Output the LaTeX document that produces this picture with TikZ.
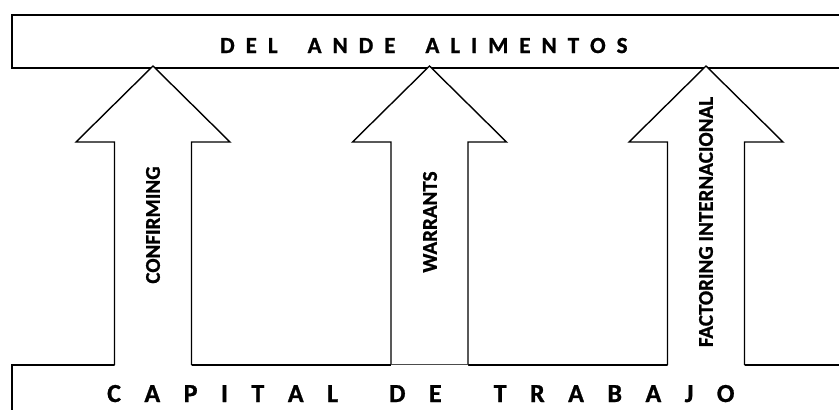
\documentclass[tikz,border=0pt]{standalone}
\usepackage{fontspec}
\setmainfont{Carlito}[BoldFont={Carlito Bold}]
\makeatletter
\newcommand{\trk}[2]{\def\trk@sep{\kern#1}\@tfor\trk@c:=#2\do{\trk@c\trk@sep}\unkern}
\makeatother
\begin{document}
\begin{tikzpicture}[x=1pt,y=-1pt,
  box/.style={draw=black, line width=1.6pt, fill=white, inner sep=0pt},
  arrowline/.style={draw=black, line width=1.4pt, line join=miter},
  vlabel/.style={rotate=90, font=\bfseries\fontsize{21}{21}\selectfont\addfontfeature{FakeBold=1}, inner sep=0pt},
  toplabel/.style={font=\bfseries\fontsize{23}{23}\selectfont\addfontfeature{FakeBold=1}, inner sep=0pt, anchor=base west},
  botlabel/.style={font=\bfseries\fontsize{26}{26}\selectfont\addfontfeature{FakeBold=1}, inner sep=0pt, anchor=base west}]
\useasboundingbox (0,0) rectangle (839,410);
\begin{scope}
\clip (0,0) rectangle (839,410);
\node[box, minimum width=834pt, minimum height=53pt, anchor=north west] (topbox) at (11,14) {};
\node[box, minimum width=834pt, minimum height=60pt, anchor=north west] (botbox) at (11,364) {};
\foreach \c/\n in {153/a1, 429.5/a2, 706/a3}{
  \coordinate (\n tip) at (\c,66);
  \fill[white] ({\c-38.5},366) -- ({\c-38.5},142) -- ({\c-77},142) -- (\n tip) -- ({\c+77},142) -- ({\c+38.5},142) -- ({\c+38.5},366) -- cycle;
  \draw[arrowline] ({\c-38.5},364.8) -- ({\c-38.5},142) -- ({\c-77},142) -- (\n tip) -- ({\c+77},142) -- ({\c+38.5},142) -- ({\c+38.5},364.8);
}
\draw[line width=0.8pt, black!70] (391,364) -- (468,364);
\node[toplabel] (topt) at (220,53) {\trk{11pt}{DEL}\kern 30pt\trk{11pt}{ANDE}\kern 30pt\trk{11pt}{ALIMENTOS}};
\node[botlabel] (bott) at (107,402) {\trk{23.5pt}{CAPITAL}\kern 51pt\trk{23.5pt}{DE}\kern 52pt\trk{23.5pt}{TRABAJO}};
\node[vlabel] (conf) at (153,225) {CONFIRMING};
\node[vlabel] (warr) at (430,222) {WARRANTS};
\node[vlabel] (fact) at (706,222) {FACTORING INTERNACIONAL};
\end{scope}
\end{tikzpicture}
\end{document}
